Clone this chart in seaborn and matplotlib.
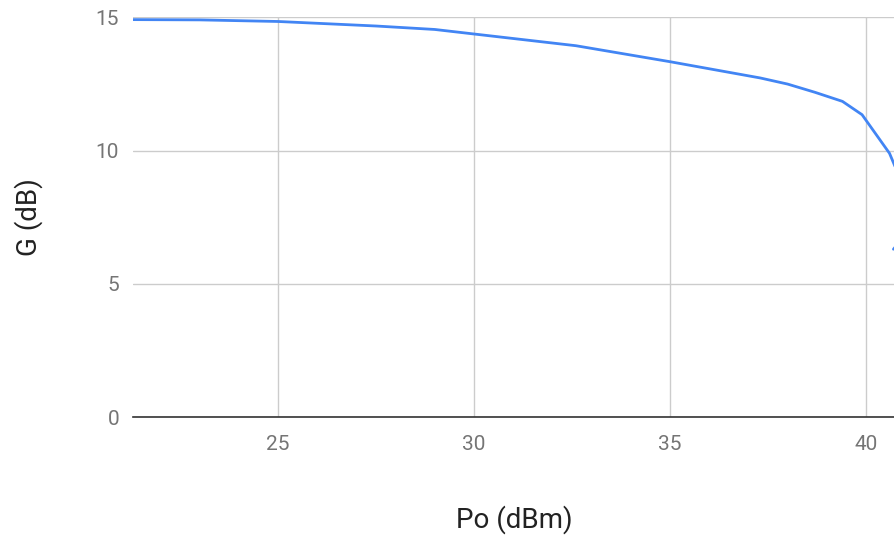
import matplotlib
matplotlib.use("Agg")
import matplotlib.pyplot as plt
import seaborn as sns
import pandas as pd

# -----------------------------
# Data
# -----------------------------
po_dbm = [21.3, 23.0, 25.0, 27.5, 29.0, 30.0, 32.6, 35.0, 37.3, 38.0,
          38.7, 39.4, 39.9, 40.6, 41.0, 41.2, 41.1, 40.7]
gain_db = [14.92, 14.91, 14.85, 14.68, 14.55, 14.38, 13.94, 13.34, 12.73, 12.50,
           12.19, 11.85, 11.35, 9.90, 8.50, 7.60, 7.00, 6.30]

df = pd.DataFrame({"Po": po_dbm, "G": gain_db})

sns.set_style("white")
plt.rcParams["font.family"] = ["Roboto", "DejaVu Sans"]

fig = plt.figure(figsize=(8.95, 5.38), dpi=100)
ax = fig.add_axes([0.1486, 0.2249, 0.8514, 0.7426])

# sort=False keeps the fold-back at saturation
sns.lineplot(data=df, x="Po", y="G", sort=False, estimator=None,
             color="#4285F4", linewidth=2, ax=ax)

ax.set_xlim(21.3, 40.74)
ax.set_ylim(0, 15)
ax.set_xticks([25, 30, 35, 40])
ax.set_yticks([0, 5, 10, 15])

ax.grid(True, color="#cccccc", linewidth=1)
ax.set_axisbelow(True)
for s in ["top", "right", "left"]:
    ax.spines[s].set_visible(False)
ax.spines["bottom"].set_color("#333333")
ax.spines["bottom"].set_linewidth(1.2)

ax.tick_params(axis="x", length=0, pad=13, labelsize=15, labelcolor="#757575")
ax.tick_params(axis="y", length=0, pad=10, labelsize=15, labelcolor="#757575")

ax.set_xlabel("Po (dBm)", fontsize=20, color="#222222", labelpad=37)
ax.set_ylabel("G (dB)", fontsize=20, color="#222222", labelpad=38)

fig.savefig("out.png", dpi=100)
